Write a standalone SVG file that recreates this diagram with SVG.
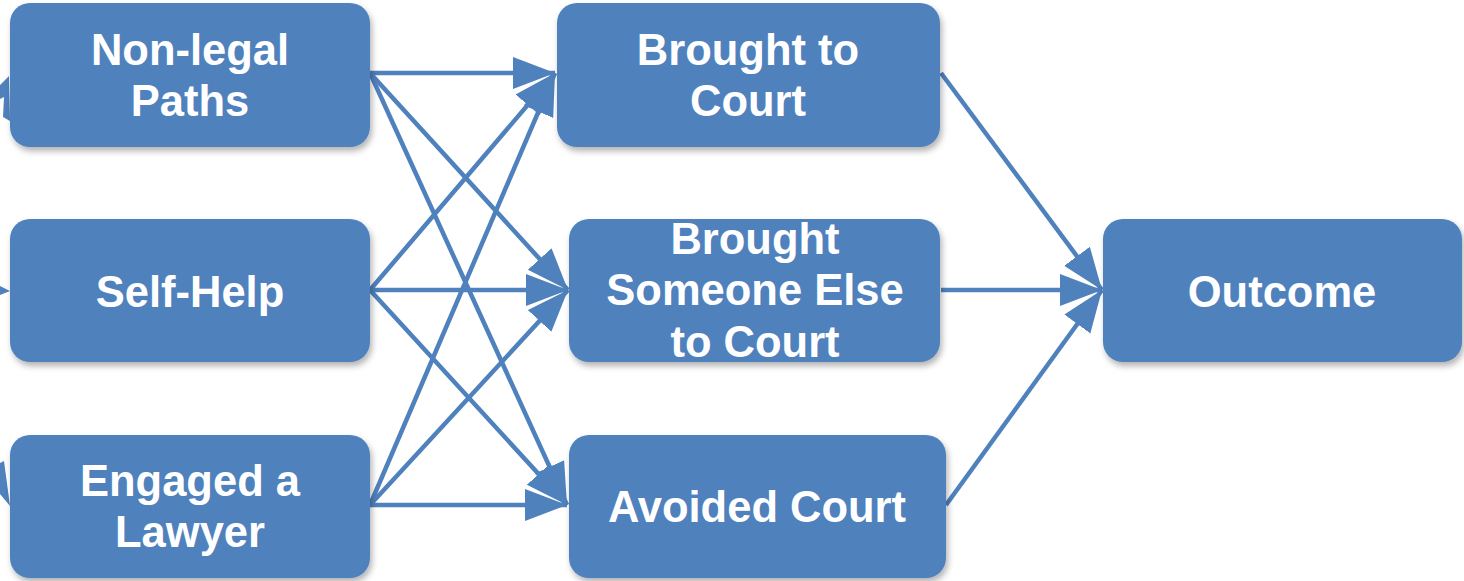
<svg xmlns="http://www.w3.org/2000/svg" width="1464" height="581" viewBox="0 0 1464 581">
<defs>
<filter id="sh" x="-10%" y="-10%" width="125%" height="130%">
<feDropShadow dx="2" dy="4" stdDeviation="3" flood-color="#000" flood-opacity="0.3"/>
</filter>
<marker id="ah" markerUnits="userSpaceOnUse" markerWidth="44" markerHeight="34" refX="42" refY="16" orient="auto" viewBox="0 0 44 34">
<path d="M0,0 L42,16 L0,32 z" fill="#4F81BD"/>
</marker>
<style>
.box{fill:#4F81BD;filter:url(#sh);}
.t{font-family:"Liberation Sans",Arial,sans-serif;font-weight:bold;font-size:43.5px;fill:#fff;text-anchor:middle;}
.c{stroke:#4F81BD;stroke-width:4.5;fill:none;marker-end:url(#ah);}
.frag{fill:#4F81BD;}
</style>
</defs>
<rect width="1464" height="581" fill="#fff"/>
<g id="fragments">
<polygon class="frag" points="9,76 10,121 3,117 4,97 0,99 0,85"/>
<polygon class="frag" points="0,286 10,291 0,295"/>
<polygon class="frag" points="0,463 4,461 10,506 0,494"/>
</g>
<g id="connectors">
<line class="c" x1="370" y1="73" x2="555" y2="73"/>
<line class="c" x1="370" y1="73" x2="568" y2="290"/>
<line class="c" x1="370" y1="73" x2="567" y2="505"/>
<line class="c" x1="370" y1="290" x2="555" y2="73"/>
<line class="c" x1="370" y1="290" x2="568" y2="290"/>
<line class="c" x1="370" y1="290" x2="567" y2="505"/>
<line class="c" x1="370" y1="505" x2="555" y2="73"/>
<line class="c" x1="370" y1="505" x2="568" y2="290"/>
<line class="c" x1="370" y1="505" x2="567" y2="505"/>
<line class="c" x1="941" y1="73" x2="1102" y2="290"/>
<line class="c" x1="941" y1="290" x2="1102" y2="290"/>
<line class="c" x1="946" y1="505" x2="1102" y2="290"/>
</g>
<g id="nonlegal">
<rect class="box" x="10" y="3" width="360" height="144" rx="20"/>
<text class="t" x="190" y="65">Non-legal</text>
<text class="t" x="190" y="116">Paths</text>
</g>
<g id="selfhelp">
<rect class="box" x="10" y="219" width="360" height="143" rx="20"/>
<text class="t" x="190" y="307">Self-Help</text>
</g>
<g id="lawyer">
<rect class="box" x="10" y="435" width="360" height="143" rx="20"/>
<text class="t" x="190" y="496">Engaged a</text>
<text class="t" x="190" y="547">Lawyer</text>
</g>
<g id="brought">
<rect class="box" x="557" y="3" width="383" height="144" rx="20"/>
<text class="t" x="748" y="65">Brought to</text>
<text class="t" x="748" y="116">Court</text>
</g>
<g id="someoneelse">
<rect class="box" x="569" y="219" width="371" height="143" rx="20"/>
<text class="t" x="755" y="254">Brought</text>
<text class="t" x="755" y="305">Someone Else</text>
<text class="t" x="755" y="357">to Court</text>
</g>
<g id="avoided">
<rect class="box" x="569" y="435" width="377" height="143" rx="20"/>
<text class="t" x="757" y="522">Avoided Court</text>
</g>
<g id="outcome">
<rect class="box" x="1103" y="219" width="359" height="143" rx="20"/>
<text class="t" x="1282" y="307">Outcome</text>
</g>
</svg>
